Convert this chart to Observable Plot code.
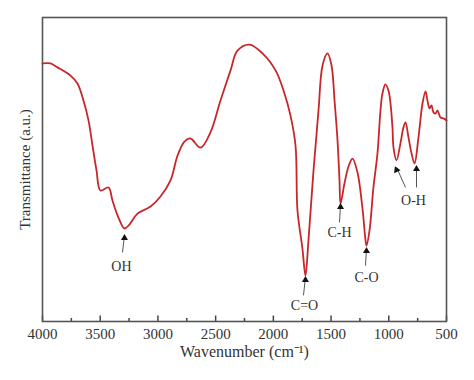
<!DOCTYPE html>
<html>
<head>
<meta charset="utf-8">
<script src="https://cdn.jsdelivr.net/npm/d3@7"></script>
<script src="https://cdn.jsdelivr.net/npm/@observablehq/plot@0.6"></script>
<style>
  html, body { margin: 0; padding: 0; background: #fff; }
</style>
</head>
<body>
<div id="chart"></div>
<script>
// Spectrum (wavenumber in cm^-1, transmittance in a.u.)
const wavenumber = [4000, 3931, 3870, 3757, 3697, 3645, 3601, 3567, 3532, 3498, 3428, 3394, 3342, 3290, 3247, 3177, 3064, 2978, 2891, 2830, 2770, 2718, 2631, 2545, 2458, 2371, 2311, 2207, 2094, 1981, 1912, 1852, 1808, 1791, 1748, 1722, 1696, 1652, 1609, 1574, 1531, 1496, 1470, 1444, 1427, 1418, 1384, 1349, 1314, 1271, 1228, 1201, 1193, 1167, 1133, 1098, 1072, 1055, 1029, 1003, 985, 968, 959, 933, 899, 873, 855, 829, 803, 777, 743, 708, 682, 665, 647, 630, 613, 595, 578, 552, 526, 500];
const transmittance = [84.9, 84.9, 83.6, 80.9, 78.3, 72.7, 66.1, 57.9, 49.7, 43.1, 44.1, 39.8, 34.2, 30.6, 31.9, 35.5, 37.8, 41.1, 46.4, 54.6, 59.2, 60.2, 57.2, 62.2, 72.7, 82.6, 89.1, 91.1, 88.2, 82.6, 76.0, 67.8, 57.9, 36.5, 24.0, 15.1, 26.6, 49.7, 69.4, 84.2, 88.2, 84.2, 72.7, 59.5, 46.4, 38.8, 45.4, 51.0, 53.6, 49.0, 37.2, 26.6, 25.0, 29.9, 44.1, 55.3, 69.4, 75.0, 78.0, 76.0, 71.7, 63.8, 57.2, 53.0, 58.6, 63.8, 65.5, 60.5, 55.3, 52.0, 60.5, 71.7, 75.7, 72.7, 70.1, 71.1, 68.8, 68.4, 69.4, 67.1, 66.8, 66.1];

// Tick values
const majorTicks = [4000, 3500, 3000, 2500, 2000, 1500, 1000, 500];
const minorTicks = [3750, 3250, 2750, 2250, 1750, 1250, 750];

// Band annotations: label, label position, arrow tail and tip
const annLabels = ["OH", "C=O", "C-H", "C-O", "O-H"];
const annLabelX = [3316, 1730, 1427, 1193, 786];
const annLabelY = [18.1, 5.3, 29.3, 14.5, 39.8];
const arrowTailX = [3307, 1739, 1427, 1202, 855, 760];
const arrowTailY = [22.7, 8.6, 32.6, 18.4, 44.1, 44.1];
const arrowTipX = [3290, 1722, 1418, 1193, 933, 760];
const arrowTipY = [28.3, 14.5, 38.5, 24.0, 50.7, 51.0];
const arrowTilt = [0, 0, 0, 0, -24, 0];

const spectrum = wavenumber.map((w, i) => ({w, t: transmittance[i]}));
const labels = annLabels.map((s, i) => ({s, x: annLabelX[i], y: annLabelY[i]}));
const arrows = arrowTipX.map((x, i) => ({
  x1: arrowTailX[i], y1: arrowTailY[i], x2: x, y2: arrowTipY[i], tilt: arrowTilt[i]
}));

const font = "'Liberation Serif', 'Times New Roman', serif";

const chart = Plot.plot({
  width: 474,
  height: 380,
  marginLeft: 42,
  marginRight: 28,
  marginTop: 17,
  marginBottom: 59,
  style: {fontFamily: font, background: "#fff", color: "#333"},
  x: {domain: [4000, 500]},
  y: {domain: [0, 100], axis: null},
  marks: [
    Plot.ruleX(minorTicks, {x: d => d, y1: 0, y2: 1.0, stroke: "#444", strokeWidth: 1.5}),
    Plot.ruleX(majorTicks, {x: d => d, y1: 0, y2: 1.8, stroke: "#444", strokeWidth: 1.5}),
    Plot.axisX({ticks: majorTicks, tickSize: 0, tickPadding: 7, fontSize: 15, fill: "#333", tickFormat: d => String(d), label: null}),
    Plot.frame({stroke: "#555", strokeWidth: 1.6}),
    Plot.line(spectrum, {x: "w", y: "t", stroke: "#c8262a", strokeWidth: 1.8, curve: "catmull-rom"}),
    Plot.link(arrows, {x1: "x1", y1: "y1", x2: "x2", y2: "y2", stroke: "#555", strokeWidth: 1}),
    Plot.dot(arrows, {
      x: "x2", y: "y2", symbol: "triangle", r: 2.6, fill: "#111", stroke: "none",
      dy: 2.5, rotate: "tilt"
    }),
    Plot.text(labels, {x: "x", y: "y", text: "s", fontSize: 14, fill: "#333", fontFamily: font}),
    Plot.text(["Wavenumber (cm⁻¹)"], {frameAnchor: "bottom", dy: 35, fontSize: 16, fill: "#333", fontFamily: font}),
    Plot.text(["Transmittance (a.u.)"], {frameAnchor: "left", dx: -17, rotate: -90, textAnchor: "middle", fontSize: 15, fill: "#333", fontFamily: font})
  ]
});
document.getElementById("chart").appendChild(chart);
</script>
</body>
</html>
